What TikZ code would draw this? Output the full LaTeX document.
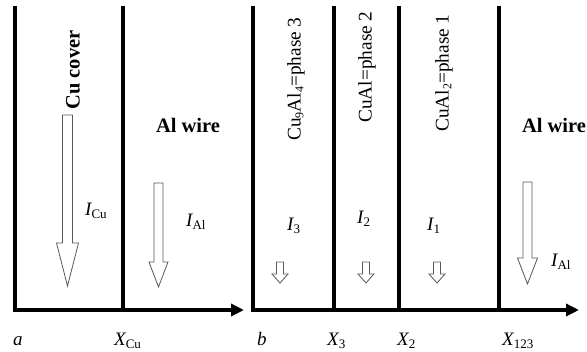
\documentclass[tikz,border=0pt]{standalone}
\usepackage{fontspec}
\setmainfont{Liberation Serif}
\usetikzlibrary{arrows.meta}

% lowered small index, as in I_Cu or Cu_9
\newcommand{\idx}[1]{\raisebox{-0.3ex}{\fontsize{13}{13}\selectfont #1}}
\newcommand{\lidx}[1]{\raisebox{-0.3ex}{\fontsize{12}{12}\selectfont #1}}
% hollow block arrow pointing down: centre x, top, start of head, tip, half shaft, half head
\newcommand{\hollowarrow}[6]{%
  \draw[blockarrow] (#1-#5,#2) -- (#1+#5,#2) -- (#1+#5,#3) -- (#1+#6,#3)
    -- (#1,#4) -- (#1-#6,#3) -- (#1-#5,#3) -- cycle;}

\tikzset{
  wall/.style={line width=3.6pt},
  axis/.style={line width=3.6pt,-{Triangle[length=13pt,width=12pt]}},
  blockarrow/.style={draw=black!65,line width=0.8pt,fill=white,line join=miter},
  layerlabel/.style={rotate=90,font=\fontsize{19.3}{21}\selectfont,inner sep=0pt},
  boldlabel/.style={font=\fontsize{20.5}{22}\selectfont\bfseries,inner sep=0pt},
  ilabel/.style={font=\fontsize{19}{21}\selectfont\itshape,inner sep=0pt,anchor=west},
  xlabel/.style={font=\fontsize{19}{21}\selectfont\itshape,inner sep=0pt,anchor=base west},
}

\begin{document}
\begin{tikzpicture}[x=1pt,y=-1pt]
\useasboundingbox (0,0) rectangle (587,352);

% ---------- panel a: Cu cover on Al wire ----------
\coordinate (a0) at (15,310);
\coordinate (aT) at (15,6);
\coordinate (acu) at (123,310);
\coordinate (acuT) at (123,6);
\coordinate (aend) at (244,310);
\draw[wall] (aT) -- (a0);
\draw[wall] (acuT) -- (acu);
\draw[axis] ([xshift=-1.8pt]a0) -- (aend);

\node[boldlabel,rotate=90] (cucover) at (73,70) {Cu cover};
\node[boldlabel] (alwireA) at (188,125) {Al wire};
\hollowarrow{67.5}{115}{243}{286}{5}{11}
\hollowarrow{158.5}{183}{262}{287}{4.5}{9.5}
\node[ilabel] (icu) at (85,211) {I\idx{\upshape Cu}};
\node[ilabel] (ialA) at (186,222) {I\idx{\upshape Al}};

\node[xlabel] (la) at (13,346) {a};
\node[xlabel] (xcu) at (114,346) {X\idx{\upshape Cu}};

% ---------- panel b: three intermetallic phases ----------
\coordinate (b0) at (253,310);
\coordinate (bT) at (253,6);
\coordinate (b3) at (334,310);
\coordinate (b3T) at (334,6);
\coordinate (b2) at (399,310);
\coordinate (b2T) at (399,6);
\coordinate (b1) at (499,310);
\coordinate (b1T) at (499,6);
\coordinate (bend) at (579,310);
\draw[wall] (bT) -- (b0);
\draw[wall] (b3T) -- (b3);
\draw[wall] (b2T) -- (b2);
\draw[wall] (b1T) -- (b1);
\draw[axis] ([xshift=-1.8pt]b0) -- (bend);

\node[layerlabel] (ph3) at (296,79) {Cu\lidx{9}Al\lidx{4}=phase 3};
\node[layerlabel] (ph2) at (367,67) {CuAl=phase 2};
\node[layerlabel] (ph1) at (444,73) {CuAl\lidx{2}=phase 1};
\node[boldlabel] (alwireB) at (554,125) {Al wire};

\node[ilabel] (i3) at (287,226) {I\idx{\upshape 3}};
\node[ilabel] (i2) at (357,219) {I\idx{\upshape 2}};
\node[ilabel] (i1) at (427,226) {I\idx{\upshape 1}};
\node[ilabel] (ialB) at (551,262) {I\idx{\upshape Al}};

\hollowarrow{280}{262}{274}{283}{3.5}{8}
\hollowarrow{366}{262}{274}{283}{3.5}{8}
\hollowarrow{437}{262}{274}{283}{3.5}{8}
\hollowarrow{527.5}{182}{258}{284}{4.5}{10}

\node[xlabel] (lb) at (257,346) {b};
\node[xlabel] (x3) at (327,346) {X\idx{\upshape 3}};
\node[xlabel] (x2) at (397,346) {X\idx{\upshape 2}};
\node[xlabel] (x123) at (502,346) {X\idx{\upshape 123}};
\end{tikzpicture}
\end{document}
